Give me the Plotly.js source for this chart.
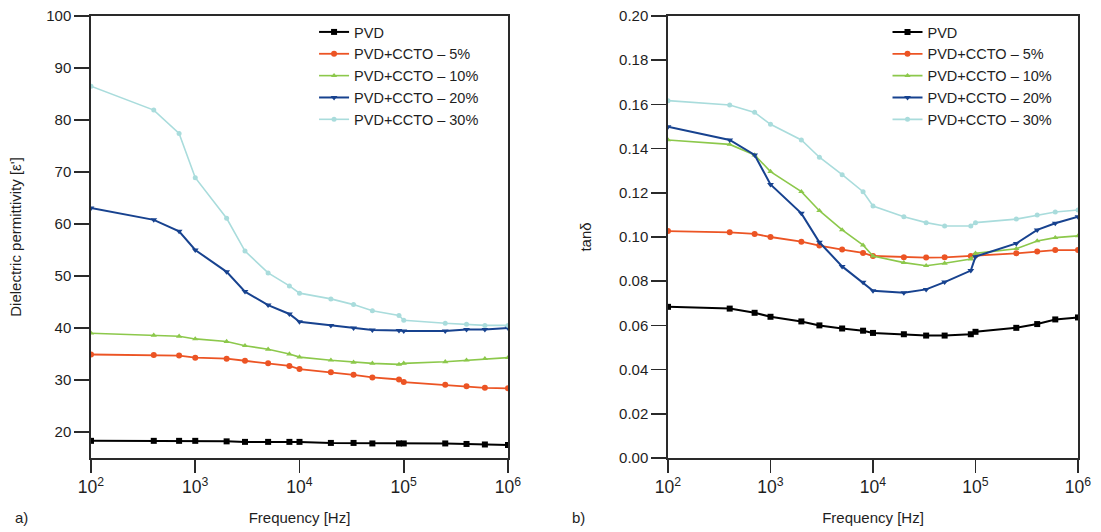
<!DOCTYPE html>
<html>
<head>
<meta charset="utf-8">
<script src="https://cdn.plot.ly/plotly-3.0.1.min.js"></script>
<style>
html,body{margin:0;padding:0;background:#fff;}
#chart{width:1101px;height:532px;}
</style>
</head>
<body>
<div id="chart"></div>
<script>
// Frequencies (Hz)
const freq = [100, 400, 700, 1000, 2000, 3000, 5000, 8000, 10000, 20000, 33000, 50000, 90000, 100000, 250000, 400000, 600000, 1000000];

// Series names
const seriesNames = ["PVD", "PVD+CCTO – 5%", "PVD+CCTO – 10%", "PVD+CCTO – 20%", "PVD+CCTO – 30%"];

// a) Dielectric permittivity
const epsPVD = [18.3,18.3,18.3,18.3,18.2,18.1,18.1,18.1,18.1,17.9,17.9,17.8,17.8,17.8,17.8,17.7,17.6,17.5];
const eps5   = [34.9,34.8,34.7,34.3,34.1,33.7,33.2,32.7,32.1,31.5,31.0,30.5,30.1,29.6,29.1,28.8,28.5,28.4];
const eps10  = [39.0,38.6,38.4,37.9,37.4,36.6,35.9,35.0,34.4,33.8,33.4,33.2,33.0,33.2,33.5,33.8,34.1,34.3];
const eps20  = [63.1,60.8,58.6,55.0,50.8,47.0,44.4,42.7,41.2,40.5,40.0,39.6,39.5,39.4,39.4,39.7,39.7,40.0];
const eps30  = [86.5,81.9,77.4,68.9,61.1,54.8,50.6,48.1,46.7,45.6,44.5,43.3,42.4,41.5,40.9,40.7,40.5,40.5];

// b) tan delta
const tanPVD = [0.0684,0.0676,0.0657,0.0639,0.0618,0.0600,0.0586,0.0576,0.0566,0.0560,0.0554,0.0554,0.0560,0.0571,0.0589,0.0606,0.0627,0.0636];
const tan5   = [0.1027,0.1021,0.1014,0.1000,0.0979,0.0961,0.0943,0.0928,0.0914,0.0908,0.0907,0.0908,0.0914,0.0917,0.0926,0.0934,0.0941,0.0941];
const tan10  = [0.1439,0.1419,0.1371,0.1296,0.1205,0.1119,0.1032,0.0963,0.0914,0.0884,0.0870,0.0881,0.0900,0.0926,0.0947,0.0982,0.0997,0.1005];
const tan20  = [0.1499,0.1439,0.1371,0.1238,0.1107,0.0976,0.0867,0.0795,0.0757,0.0748,0.0763,0.0796,0.0848,0.0911,0.0971,0.1032,0.1062,0.1092];
const tan30  = [0.1617,0.1597,0.1564,0.1510,0.1439,0.1361,0.1282,0.1205,0.1140,0.1092,0.1065,0.1050,0.1050,0.1065,0.1081,0.1100,0.1113,0.1122];

const colors = ["#000000", "#ec5424", "#8cc84b", "#17428f", "#a9dcdc"];
const symbols = ["square", "circle", "triangle-up", "triangle-down", "circle"];
const widths = [2, 1.8, 1.6, 2, 1.6];
const msizes = [6, 6, 5.5, 6, 5];

const epsSeries = [epsPVD, eps5, eps10, eps20, eps30];
const tanSeries = [tanPVD, tan5, tan10, tan20, tan30];

const traces = [];
epsSeries.forEach((ys, i) => {
  traces.push({
    x: freq, y: ys, name: seriesNames[i], type: "scatter", mode: "lines+markers",
    xaxis: "x", yaxis: "y", legend: "legend",
    line: {color: colors[i], width: widths[i]},
    marker: {color: colors[i], symbol: symbols[i], size: msizes[i]}
  });
});
tanSeries.forEach((ys, i) => {
  traces.push({
    x: freq, y: ys, name: seriesNames[i], type: "scatter", mode: "lines+markers",
    xaxis: "x2", yaxis: "y2", legend: "legend2",
    line: {color: colors[i], width: widths[i]},
    marker: {color: colors[i], symbol: symbols[i], size: msizes[i]}
  });
});

const FONT = "Liberation Sans, Arial, Helvetica, sans-serif";
const TXT = "#1e1e1e";
const axisCommon = {
  showgrid: false, zeroline: false, showline: true, mirror: true,
  linecolor: "#2a2a2a", linewidth: 1.7,
  ticks: "outside", ticklen: 15, tickwidth: 1.6, tickcolor: "#2a2a2a",
  tickfont: {family: FONT, size: 15, color: TXT}
};
const xCommon = Object.assign({}, axisCommon, {
  type: "log", range: [2, 6], dtick: 1, exponentformat: "power", ticklen: 13,
  tickfont: {family: FONT, size: 14, color: TXT},
  title: {text: "Frequency [Hz]", font: {family: FONT, size: 15, color: TXT}, standoff: 16}
});

const legendCommon = {xanchor: "left", yanchor: "top", bgcolor: "rgba(0,0,0,0)",
  font: {family: FONT, size: 14.5, color: TXT}, tracegroupgap: 0};

const layout = {
  width: 1101, height: 532,
  margin: {l: 91, r: 23, t: 16, b: 74},
  paper_bgcolor: "#fff", plot_bgcolor: "#fff",
  font: {family: FONT, size: 15, color: TXT},
  xaxis: Object.assign({}, xCommon, {domain: [0, 0.4225], anchor: "y"}),
  xaxis2: Object.assign({}, xCommon, {domain: [0.5846, 1], anchor: "y2"}),
  yaxis: Object.assign({}, axisCommon, {
    range: [15, 100], dtick: 10, tick0: 0, anchor: "x",
    title: {text: "Dielectric permittivity [ε']", font: {family: FONT, size: 15, color: TXT}, standoff: 21}
  }),
  yaxis2: Object.assign({}, axisCommon, {
    range: [0, 0.2], dtick: 0.02, tickformat: ".2f", anchor: "x2",
    title: {text: "tanδ", font: {family: FONT, size: 15, color: TXT}, standoff: 24}
  }),
  showlegend: true,
  legend: Object.assign({}, legendCommon, {x: 0.226, y: 1.0}),
  legend2: Object.assign({}, legendCommon, {x: 0.807, y: 1.0}),
  annotations: [
    {text: "a)", xref: "paper", yref: "paper", x: -0.070, y: -0.135, xanchor: "center", yanchor: "middle",
     showarrow: false, font: {family: FONT, size: 15, color: TXT}},
    {text: "b)", xref: "paper", yref: "paper", x: 0.494, y: -0.135, xanchor: "center", yanchor: "middle",
     showarrow: false, font: {family: FONT, size: 15, color: TXT}}
  ]
};

Plotly.newPlot("chart", traces, layout, {displayModeBar: false, staticPlot: true});
</script>
</body>
</html>
